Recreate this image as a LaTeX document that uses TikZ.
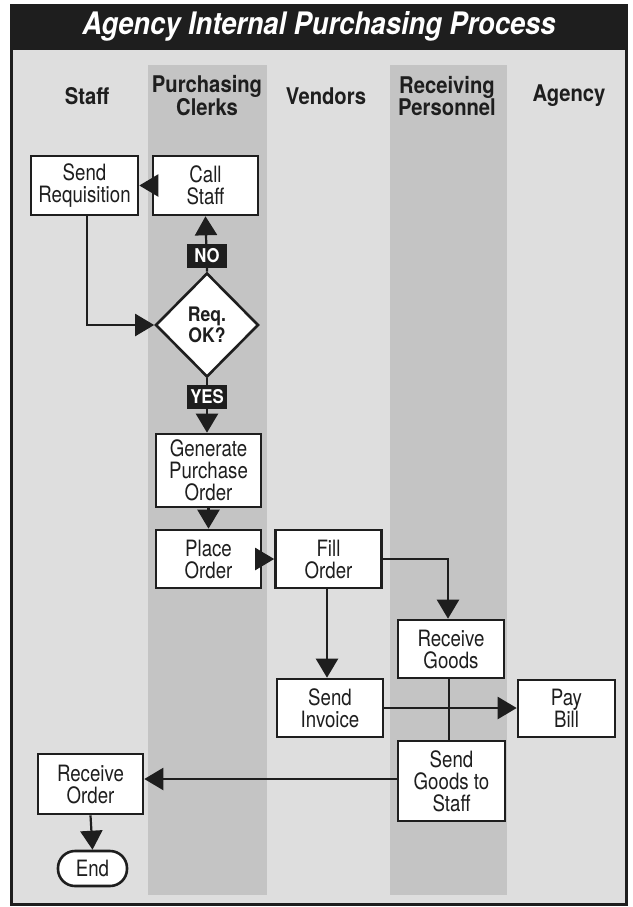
\documentclass[tikz,border=0pt]{standalone}
\usepackage{fontspec}
\setmainfont{TeX Gyre Heros}[FakeStretch=0.88]
\newfontfamily\narrowsans{TeX Gyre Heros}[FakeStretch=0.83]
\usetikzlibrary{arrows.meta,shapes.geometric}

\definecolor{ink}{HTML}{1E1E1E}
\definecolor{lanelight}{HTML}{DEDEDE}
\definecolor{lanedark}{HTML}{C4C4C4}

\begin{document}
\begin{tikzpicture}[x=1pt,y=-1pt,
  stepbox/.style={draw=ink, line width=2.6pt, fill=white, inner sep=0pt,
    align=center, text=ink, font=\narrowsans\fontsize{22.5}{22}\selectfont},
  decision/.style={stepbox, shape=diamond, font=\bfseries\fontsize{20}{21}\selectfont},
  flow/.style={draw=ink, line width=2.2pt, -{Triangle[width=22pt,length=19pt]}},
  link/.style={draw=ink, line width=2.2pt},
  tag/.style={fill=ink, text=white, inner sep=0pt, minimum width=40pt,
    minimum height=24pt, font=\bfseries\fontsize{19}{19}\selectfont},
  lanehead/.style={text=ink, align=center, font=\bfseries\fontsize{23}{22}\selectfont}
]
\useasboundingbox (0,0) rectangle (632,907);
\fill[white] (0,0) rectangle (632,907);

% swimlane backgrounds
\fill[lanelight] (10,49) rectangle (628,905);
\fill[lanedark] (148,65) rectangle (267,895);
\fill[lanedark] (390,65) rectangle (507,895);

% frame and title bar
\fill[ink] (10,4) rectangle (628,49);
\draw[ink, line width=3pt] (11.5,49) rectangle (626.5,904.5);
\node (title) at (319,26.5) [text=white, font=\bfseries\itshape\fontsize{31}{31}\selectfont]
  {Agency Internal Purchasing Process};

% lane headings
\node (hstaff) at (87,96)  [lanehead] {Staff};
\node (hclerk) at (207,96) [lanehead] {Purchasing\\Clerks};
\node (hvend)  at (326,96) [lanehead] {Vendors};
\node (hrecv)  at (447,96) [lanehead] {Receiving\\Personnel};
\node (hagcy)  at (569,96) [lanehead] {Agency};

% process steps
\node (sendreq)   at (84.5,185.5) [stepbox, minimum width=107pt, minimum height=59pt] {Send\\Requisition};
\node (callstaff) at (205.5,185.5) [stepbox, minimum width=105pt, minimum height=59pt] {Call\\Staff};
\node (req)       at (207,325)    [decision, minimum width=103pt, minimum height=104pt] {Req.\\OK?};
\node (genpo)     at (208.5,470.5) [stepbox, minimum width=105pt, minimum height=73pt] {Generate\\Purchase\\Order};
\node (place)     at (208.5,559)  [stepbox, minimum width=105pt, minimum height=58pt] {Place\\Order};
\node (fill)      at (328.5,559)  [stepbox, minimum width=106pt, minimum height=58pt] {Fill\\Order};
\node (recvgoods) at (451,649)    [stepbox, minimum width=106pt, minimum height=58pt] {Receive\\Goods};
\node (sendinv)   at (330,708)    [stepbox, minimum width=106pt, minimum height=58pt] {Send\\Invoice};
\node (paybill)   at (566.5,708.5) [stepbox, minimum width=97pt, minimum height=57pt] {Pay\\Bill};
\node (sendgoods) at (451.5,781)  [stepbox, minimum width=107pt, minimum height=80pt] {Send\\Goods to\\Staff};
\node (recvorder) at (90.5,784)   [stepbox, minimum width=105pt, minimum height=60pt] {Receive\\Order};
\node (end)       at (92.5,868.5) [stepbox, rounded corners=17pt, minimum width=69pt, minimum height=35pt] {End};

% connectors
\draw[flow] (callstaff.west) -- (sendreq.east);
\draw[flow] (req.north) -- (callstaff.south);
\node (no) at (207,255.5) [tag] {NO};
\draw[flow] ([xshift=2.5pt]sendreq.south) |- (req.west);
\draw[flow] (req.south) -- (req.south |- genpo.north);
\node (yes) at (207,396.5) [tag] {YES};
\draw[flow] (genpo.south) -- (place.north);
\draw[flow] (place.east) -- (fill.west);
\draw[flow] (fill.east) -| ([xshift=-3pt]recvgoods.north);
\draw[flow] ([xshift=-1.5pt]fill.south) -- ([xshift=-1.5pt]fill.south |- sendinv.north);
\draw[link] ([xshift=-2pt]recvgoods.south) -- ([xshift=-2pt]recvgoods.south |- sendgoods.north);
\draw[flow] (sendinv.east) -- (sendinv.east -| paybill.west);
\draw[flow] ([yshift=2pt]sendgoods.west) -- ([yshift=2pt]sendgoods.west -| recvorder.east);
\draw[flow] (recvorder.south) -- (end.north);
\end{tikzpicture}
\end{document}
